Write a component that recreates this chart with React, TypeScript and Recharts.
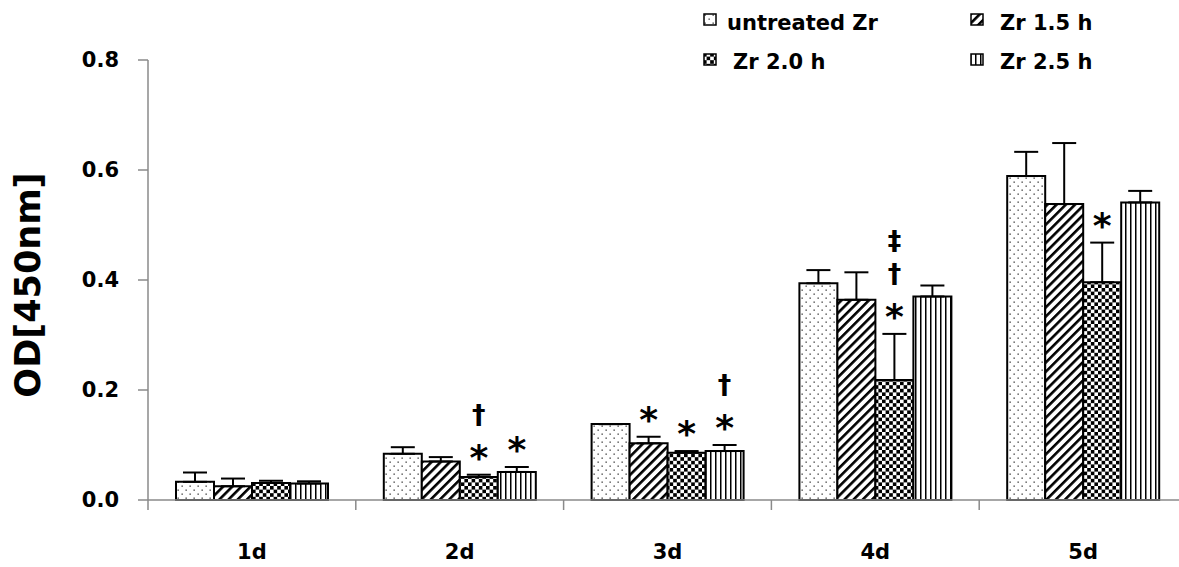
import React from 'react';
import { BarChart, Bar, XAxis, YAxis, ErrorBar, Legend } from 'recharts';

const days = ['1d', '2d', '3d', '4d', '5d'];
const seriesNames = ['untreated Zr', 'Zr 1.5 h', 'Zr 2.0 h', 'Zr 2.5 h'];

const untreated = [0.033, 0.084, 0.138, 0.394, 0.589];
const untreatedErr = [0.017, 0.012, 0.0, 0.024, 0.044];
const zr15 = [0.025, 0.070, 0.103, 0.364, 0.538];
const zr15Err = [0.014, 0.008, 0.012, 0.050, 0.111];
const zr20 = [0.031, 0.042, 0.086, 0.218, 0.396];
const zr20Err = [0.004, 0.004, 0.003, 0.084, 0.072];
const zr25 = [0.030, 0.051, 0.089, 0.370, 0.541];
const zr25Err = [0.004, 0.009, 0.011, 0.020, 0.021];

const untreatedAnn: string[][] = [[], [], [], [], []];
const zr15Ann: string[][] = [[], [], ['*'], [], []];
const zr20Ann: string[][] = [[], ['†', '*'], ['*'], ['‡', '†', '*'], ['*']];
const zr25Ann: string[][] = [[], ['*'], ['†', '*'], [], []];

const yTicks = [0, 0.2, 0.4, 0.6, 0.8];

const seriesValues = [untreated, zr15, zr20, zr25];
const seriesErrors = [untreatedErr, zr15Err, zr20Err, zr25Err];
const seriesAnn = [untreatedAnn, zr15Ann, zr20Ann, zr25Ann];
const keys = ['s0', 's1', 's2', 's3'];
const patternIds = ['pDots', 'pDiag', 'pCheck', 'pVert'];

const data = days.map((d, i) => {
  const row: any = { day: d };
  keys.forEach((k, j) => {
    row[k] = seriesValues[j][i];
    row[k + 'e'] = [0, seriesErrors[j][i]];
  });
  return row;
});

const FONT = '"DejaVu Sans", Verdana, sans-serif';
const AXIS = '#8a8a8a';

const PatternDefs = () => (
  <defs>
    <pattern id="pDots" width="8" height="8" patternUnits="userSpaceOnUse">
      <rect width="8" height="8" fill="#fff" />
      <rect x="1.5" y="1.5" width="1.3" height="1.3" fill="#333" />
      <rect x="5.5" y="5.5" width="1.3" height="1.3" fill="#333" />
    </pattern>
    <pattern id="pDiag" width="6.5" height="6.5" patternUnits="userSpaceOnUse" patternTransform="rotate(45)">
      <rect width="6.5" height="6.5" fill="#fff" />
      <rect x="0" y="0" width="2.6" height="6.5" fill="#000" />
    </pattern>
    <pattern id="pCheck" width="7.2" height="7.2" patternUnits="userSpaceOnUse">
      <rect width="7.2" height="7.2" fill="#fff" />
      <rect width="3.6" height="3.6" fill="#000" />
      <rect x="3.6" y="3.6" width="3.6" height="3.6" fill="#000" />
    </pattern>
    <pattern id="pVert" width="5" height="5" patternUnits="userSpaceOnUse">
      <rect width="5" height="5" fill="#fff" />
      <rect x="0" y="0" width="1.5" height="5" fill="#000" />
    </pattern>
  </defs>
);

const symStyle: Record<string, { size: number; dy: number }> = {
  '*': { size: 36, dy: 21 },
  '†': { size: 27, dy: 8 },
  '‡': { size: 27, dy: 8 },
};

const makeAnn = (j: number) => (props: any) => {
  const { x, y, width, height, index } = props;
  const syms = seriesAnn[j][index];
  if (!syms || syms.length === 0) return null;
  const v = seriesValues[j][index];
  const pxPerUnit = v ? Math.abs(height) / v : 0;
  const errTop = y - seriesErrors[j][index] * pxPerUnit;
  const cx = x + width / 2;
  const rev = syms.slice().reverse();
  return (
    <g>
      {rev.map((s, k) => {
        const st = symStyle[s] || { size: 27, dy: 8 };
        const cy = errTop - 26 - k * 33;
        return (
          <text key={k} x={cx} y={cy + st.dy} textAnchor="middle" fontFamily={FONT} fontWeight="bold" fontSize={st.size} fill="#000">
            {s}
          </text>
        );
      })}
    </g>
  );
};

const XTick = (props: any) => {
  const { x, y, payload } = props;
  const off = payload && payload.offset ? payload.offset : 0;
  return (
    <g>
      <line x1={x - off} y1={y} x2={x - off} y2={y + 10} stroke={AXIS} strokeWidth={1.5} />
      <text x={x} y={y + 59} textAnchor="middle" fontFamily={FONT} fontWeight="bold" fontSize={21} fill="#000">
        {payload.value}
      </text>
    </g>
  );
};

const YLabel = (props: any) => {
  const vb = props.viewBox || { x: 0, y: 60, width: 148, height: 440 };
  const cx = vb.x + 40;
  const cy = vb.y + vb.height / 2 + 5;
  return (
    <text x={cx} y={cy} transform={`rotate(-90 ${cx} ${cy})`} textAnchor="middle" fontFamily={FONT} fontWeight="bold" fontSize={35} fill="#000">
      OD[450nm]
    </text>
  );
};

const legendPos = [
  { ix: 703, iy: 13, tx: 727, ty: 10 },
  { ix: 970, iy: 13, tx: 1000, ty: 10 },
  { ix: 703, iy: 53, tx: 733, ty: 49 },
  { ix: 970, iy: 53, tx: 1000, ty: 49 },
];

const renderLegend = () => (
  <div style={{ position: 'relative', width: 1179, height: 80 }}>
    {seriesNames.map((n, j) => {
      const p = legendPos[j];
      return (
        <React.Fragment key={n}>
          <svg width={14} height={13} style={{ position: 'absolute', left: p.ix, top: p.iy }}>
            <rect x={1} y={1} width={12} height={11} fill={`url(#${patternIds[j]})`} stroke="#000" strokeWidth={1.5} />
          </svg>
          <span style={{ position: 'absolute', left: p.tx, top: p.ty, lineHeight: '26px', fontFamily: FONT, fontWeight: 'bold', fontSize: 21, color: '#000', whiteSpace: 'nowrap' }}>
            {n}
          </span>
        </React.Fragment>
      );
    })}
  </div>
);

export default function App() {
  return (
    <div style={{ position: 'absolute', left: 0, top: 0, width: 1179, height: 567, overflow: 'hidden', background: '#fff', fontFamily: FONT }}>
      <BarChart width={1187} height={567} data={data} margin={{ top: 60, right: 0, bottom: 0, left: 0 }} barCategoryGap={28} barGap={0}>
        <PatternDefs />
        <XAxis
          dataKey="day"
          height={67}
          axisLine={{ stroke: AXIS, strokeWidth: 1.5 }}
          tickLine={false}
          tickSize={0}
          tickMargin={0}
          tick={<XTick />}
          interval={0}
        />
        <YAxis
          width={148}
          domain={[0, 0.8]}
          ticks={yTicks}
          interval={0}
          tickFormatter={(v: number) => v.toFixed(1)}
          axisLine={{ stroke: AXIS, strokeWidth: 1.5 }}
          tickLine={{ stroke: AXIS, strokeWidth: 1.5 }}
          tickSize={10}
          tickMargin={19}
          tick={{ fontFamily: FONT, fontWeight: 'bold', fontSize: 21, fill: '#000' }}
          label={<YLabel />}
        />
        <Legend layout="vertical" verticalAlign="middle" align="center" content={renderLegend} wrapperStyle={{ position: 'absolute', left: 0, top: 0, width: 1179, height: 80 }} />
        {keys.map((k, j) => (
          <Bar key={k} dataKey={k} name={seriesNames[j]} fill={`url(#${patternIds[j]})`} stroke="#000" strokeWidth={2} isAnimationActive={false} label={makeAnn(j)}>
            <ErrorBar dataKey={k + 'e'} width={12} stroke="#000" strokeWidth={2} direction="y" />
          </Bar>
        ))}
      </BarChart>
    </div>
  );
}
